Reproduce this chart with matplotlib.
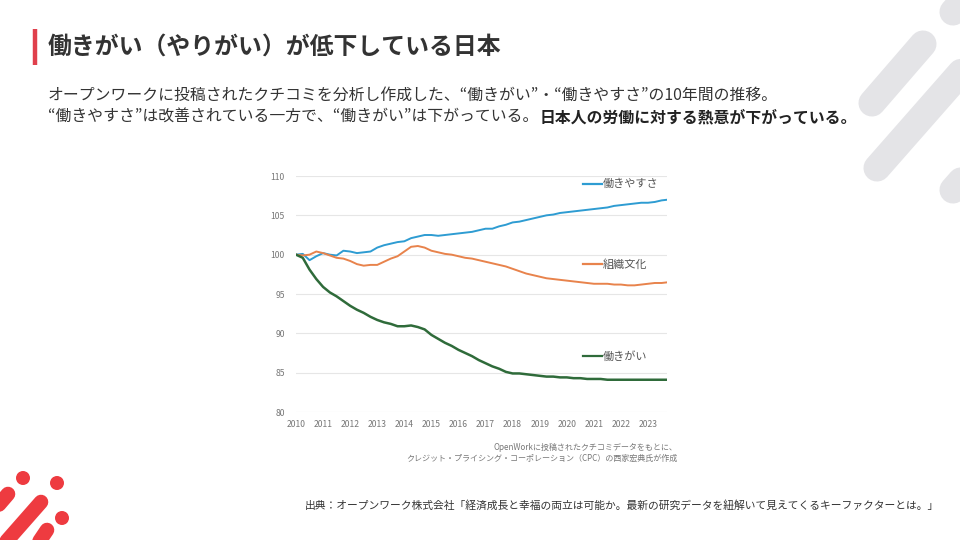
import matplotlib
matplotlib.use("Agg")
import matplotlib.pyplot as plt
from matplotlib.patches import Circle

plt.rcParams['font.family'] = ['Noto Sans CJK JP', 'DejaVu Sans']

# 四半期ごとの値 (2010年Q1 = 100)
quarters = [2010 + q / 4 for q in range(56)]

hatarakiyasusa = [
    100.0, 100.1, 99.3, 99.8,
    100.2, 100.0, 99.9, 100.5,
    100.4, 100.2, 100.3, 100.4,
    100.9, 101.2, 101.4, 101.6,
    101.7, 102.1, 102.3, 102.5,
    102.5, 102.4, 102.5, 102.6,
    102.7, 102.8, 102.9, 103.1,
    103.3, 103.3, 103.6, 103.8,
    104.1, 104.2, 104.4, 104.6,
    104.8, 105.0, 105.1, 105.3,
    105.4, 105.5, 105.6, 105.7,
    105.8, 105.9, 106.0, 106.2,
    106.3, 106.4, 106.5, 106.6,
    106.6, 106.7, 106.9, 107.0,
]
soshiki_bunka = [
    100.0, 99.9, 100.0, 100.4,
    100.2, 99.9, 99.6, 99.5,
    99.2, 98.8, 98.6, 98.7,
    98.7, 99.1, 99.5, 99.8,
    100.4, 101.0, 101.1, 100.9,
    100.5, 100.3, 100.1, 100.0,
    99.8, 99.6, 99.5, 99.3,
    99.1, 98.9, 98.7, 98.5,
    98.2, 97.9, 97.6, 97.4,
    97.2, 97.0, 96.9, 96.8,
    96.7, 96.6, 96.5, 96.4,
    96.3, 96.3, 96.3, 96.2,
    96.2, 96.1, 96.1, 96.2,
    96.3, 96.4, 96.4, 96.5,
]
hatarakigai = [
    100.0, 99.6, 98.1, 96.9,
    95.9, 95.2, 94.7, 94.1,
    93.5, 93.0, 92.6, 92.1,
    91.7, 91.4, 91.2, 90.9,
    90.9, 91.0, 90.8, 90.5,
    89.8, 89.3, 88.8, 88.4,
    87.9, 87.5, 87.1, 86.6,
    86.2, 85.8, 85.5, 85.1,
    84.9, 84.9, 84.8, 84.7,
    84.6, 84.5, 84.5, 84.4,
    84.4, 84.3, 84.3, 84.2,
    84.2, 84.2, 84.1, 84.1,
    84.1, 84.1, 84.1, 84.1,
    84.1, 84.1, 84.1, 84.1,
]

series_names = ['働きやすさ', '組織文化', '働きがい']
series_colors = ['#2E9CD2', '#E8834C', '#2F6B3A']
label_y = [109.0, 98.8, 87.1]
year_ticks = list(range(2010, 2024))
value_ticks = [80, 85, 90, 95, 100, 105, 110]

fig = plt.figure(figsize=(9.6, 5.4), dpi=100)

# 背景の飾り (ピクセル座標)
bg = fig.add_axes([0, 0, 1, 1])
bg.set_xlim(0, 960)
bg.set_ylim(540, 0)
bg.axis('off')

gray = '#E4E4E7'
for (x0, y0), (x1, y1) in [((872, 103), (923, 44)),
                           ((877, 168), (1000, 28)),
                           ((953, 12), (990, -30)),
                           ((953, 190), (990, 148))]:
    bg.plot([x0, x1], [y0, y1], color=gray, lw=19.5, solid_capstyle='round')

red = '#EE3B40'
for (x0, y0), (x1, y1) in [((8, 494), (-40, 550)),
                           ((41, 502), (-10, 560)),
                           ((47, 530), (20, 570))]:
    bg.plot([x0, x1], [y0, y1], color=red, lw=10.5, solid_capstyle='round')
for cx, cy in [(23, 478), (57, 483), (62, 518)]:
    bg.add_patch(Circle((cx, cy), 7, color=red, lw=0))

# タイトルと説明文
bg.plot([35, 35], [29, 65], color='#E0404C', lw=3.2, solid_capstyle='butt')
bg.text(48, 47, '働きがい（やりがい）が低下している日本', fontsize=17.2,
        fontweight='bold', color='#333333', va='center', ha='left')
bg.text(48, 95, 'オープンワークに投稿されたクチコミを分析し作成した、“働きがい”・“働きやすさ”の10年間の推移。',
        fontsize=11.4, color='#333333', va='center', ha='left')
first = bg.text(48, 117, '“働きやすさ”は改善されている一方で、“働きがい”は下がっている。',
                fontsize=11.4, color='#333333', va='center', ha='left')
fig.canvas.draw()
bb = first.get_window_extent()
bg.text(bb.x1 + 1, 540 - 117, '日本人の労働に対する熱意が下がっている。',
        fontsize=11.4, fontweight='bold', color='#222222', va='center', ha='left',
        transform=None)

bg.text(677, 447, 'OpenWorkに投稿されたクチコミデータをもとに、',
        fontsize=5.8, color='#777777', ha='right', va='center')
bg.text(677, 458, 'クレジット・プライシング・コーポレーション（CPC）の西家宏典氏が作成',
        fontsize=5.8, color='#777777', ha='right', va='center')
bg.text(305, 505, '出典：オープンワーク株式会社「経済成長と幸福の両立は可能か。最新の研究データを紐解いて見えてくるキーファクターとは。」',
        fontsize=7.75, color='#333333', ha='left', va='center')

# グラフ本体
ax = fig.add_axes([296 / 960, 1 - 412 / 540, (667 - 296) / 960, (412 - 176) / 540])
for vals, name, col, ly in zip([hatarakiyasusa, soshiki_bunka, hatarakigai],
                               series_names, series_colors, label_y):
    ax.plot(quarters, vals, color=col, lw=1.8 if name == '働きがい' else 1.4)
    ax.plot([2020.6, 2021.3], [ly, ly], color=col, lw=1.6)
    ax.text(2021.33, ly, name, fontsize=8, color='#555555', va='center', ha='left')

ax.set_xlim(2010, 2023.7)
ax.set_ylim(80, 110)
ax.set_yticks(value_ticks)
ax.set_xticks(year_ticks)
ax.set_xticklabels([str(y) for y in year_ticks])
ax.grid(axis='y', color='#E6E6E6', lw=0.8)
ax.set_axisbelow(True)
for s in ax.spines.values():
    s.set_visible(False)
ax.tick_params(length=0, labelsize=6.2, labelcolor='#777777')
ax.tick_params(axis='y', pad=8)
ax.tick_params(axis='x', pad=6)

fig.savefig('out.png', dpi=100)
